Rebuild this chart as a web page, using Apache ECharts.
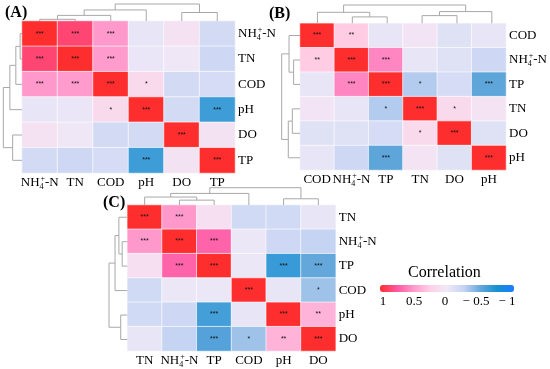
<!DOCTYPE html>
<html><head><meta charset="utf-8">
<script src="https://cdn.jsdelivr.net/npm/echarts@6/dist/echarts.min.js"></script>
<style>html,body{margin:0;padding:0;background:#fff}#c{width:550px;height:369px}</style>
</head><body><div id="c"></div>
<script>
// ---------- data ----------
const labelsA = ['NH4+-N','TN','COD','pH','DO','TP'];
const corrA = [
  [1, 0.85, 0.5, -0.05, 0.08, -0.17],
  [0.85, 1, 0.49, -0.03, 0.02, -0.2],
  [0.5, 0.49, 1, 0.15, -0.17, -0.15],
  [-0.05, -0.03, 0.15, 1, -0.17, -0.62],
  [0.08, 0.02, -0.17, -0.17, 1, 0.07],
  [-0.17, -0.2, -0.15, -0.62, 0.07, 1]
];
const sigA = [
  ['***','***','***','','',''],
  ['***','***','***','','',''],
  ['***','***','***','*','',''],
  ['','','*','***','','***'],
  ['','','','','***',''],
  ['','','','***','','***']
];
const treeA = [[0,1,0.1],[6,2,0.33],[7,3,0.65],[4,5,0.5],[8,9,1]];

const labelsB = ['COD','NH4+-N','TP','TN','DO','pH'];
const corrB = [
  [1, 0.27, -0.05, 0.05, -0.1, -0.05],
  [0.27, 1, 0.57, -0.05, -0.1, -0.2],
  [-0.05, 0.57, 1, -0.3, -0.15, -0.52],
  [0.05, -0.05, -0.3, 1, 0.15, 0.06],
  [-0.1, -0.1, -0.15, 0.15, 1, -0.1],
  [-0.05, -0.2, -0.52, 0.06, -0.1, 1]
];
const sigB = [
  ['***','**','','','',''],
  ['**','***','***','','',''],
  ['','***','***','*','','***'],
  ['','','*','***','*',''],
  ['','','','*','***',''],
  ['','','***','','','***']
];
const treeB = [[1,2,0.35],[0,6,0.6],[3,4,0.42],[8,5,0.64],[7,9,1]];

const labelsC = ['TN','NH4+-N','TP','COD','pH','DO'];
const corrC = [
  [1, 0.5, 0.1, -0.18, -0.18, -0.05],
  [0.5, 1, 0.7, -0.02, -0.2, -0.25],
  [0.1, 0.7, 1, -0.02, -0.64, -0.5],
  [-0.18, -0.02, -0.02, 1, -0.04, -0.35],
  [-0.18, -0.2, -0.6, -0.04, 1, 0.38],
  [-0.05, -0.25, -0.55, -0.35, 0.38, 1]
];
const sigC = [
  ['***','***','','','',''],
  ['***','***','***','','',''],
  ['','***','***','','***','***'],
  ['','','','***','','*'],
  ['','','***','','***','**'],
  ['','','***','*','**','***']
];
const treeC = [[1,2,0.28],[0,6,0.46],[7,3,0.67],[4,5,0.36],[8,9,1]];

const colorTicks = [1, 0.5, 0, -0.5, -1];
const scaleColors = ['#1a7dff','#1590d2','#64a7db','#c6d4f3','#efe9f7','#ffd0e6','#ff99cc','#ff55a0','#ff2e2e'];

// ---------- helpers ----------
const FONT = "'Liberation Serif','Times New Roman',serif";
const rich = {
  n: {fontSize: 13, fontFamily: FONT, color: '#000', lineHeight: 16},
  s: {fontSize: 8, fontFamily: FONT, color: '#000', verticalAlign: 'bottom', lineHeight: 9},
  p: {fontSize: 8, fontFamily: FONT, color: '#000', verticalAlign: 'top', lineHeight: 9, padding: [0, 0, 0, -3]}
};
function fmtLabel(v) {
  if (v === 'NH4+-N') return '{n|NH}{s|4}{p|+}{n|-N}';
  return '{n|' + v + '}';
}
function heatData(m) {
  const out = [];
  m.forEach((row, r) => row.forEach((v, c) => out.push([c, r, v])));
  return out;
}
function dendroSegments(tree, n) {
  const pos = [];
  for (let i = 0; i < n; i++) pos.push([i, 0]);
  const segs = [];
  tree.forEach(([a, b, h]) => {
    const pa = pos[a], pb = pos[b];
    segs.push([pa[0], pa[1], pb[0], pb[1], h]);
    pos.push([(pa[0] + pb[0]) / 2, h]);
  });
  return segs;
}

const panels = [
  {labels: labelsA, corr: corrA, sig: sigA, tree: treeA,
   hm: {left: 22, top: 21, width: 213, height: 152}, colH: 17, rowW: 18.7},
  {labels: labelsB, corr: corrB, sig: sigB, tree: treeB,
   hm: {left: 300, top: 23.3, width: 209.3, height: 146.7}, colH: 18.3, rowW: 18.3},
  {labels: labelsC, corr: corrC, sig: sigC, tree: treeC,
   hm: {left: 127.3, top: 205, width: 208.4, height: 146.7}, colH: 17.3, rowW: 18.3}
];

const grid = [], xAxis = [], yAxis = [], series = [];
const hidden = {show: false};
// heatmaps 0..2
panels.forEach((p, i) => {
  grid.push(Object.assign({containLabel: false}, p.hm));
  xAxis.push({type: 'category', gridIndex: i, data: p.labels, position: 'bottom',
    axisLine: hidden, axisTick: hidden, splitArea: hidden, splitLine: hidden,
    axisLabel: {margin: 2, formatter: fmtLabel, rich: rich, interval: 0}});
  yAxis.push({type: 'category', gridIndex: i, data: p.labels, position: 'right', inverse: true,
    axisLine: hidden, axisTick: hidden, splitArea: hidden, splitLine: hidden,
    axisLabel: {margin: 3, formatter: fmtLabel, rich: rich, interval: 0, align: 'left'}});
  const sig = p.sig;
  series.push({type: 'heatmap', xAxisIndex: i, yAxisIndex: i, data: heatData(p.corr),
    itemStyle: {borderColor: 'rgba(255,255,255,0.8)', borderWidth: 0.8},
    label: {show: true, fontSize: 7, color: '#111', fontFamily: 'Liberation Sans',
      formatter: q => sig[q.value[1]][q.value[0]]},
    emphasis: {disabled: true}, silent: true});
});
// column dendrograms 3..5
panels.forEach((p, i) => {
  const gi = grid.length;
  grid.push({left: p.hm.left, width: p.hm.width, top: p.hm.top - p.colH, height: p.colH});
  xAxis.push({type: 'value', gridIndex: gi, min: -0.5, max: p.labels.length - 0.5, show: false});
  yAxis.push({type: 'value', gridIndex: gi, min: 0, max: 1, show: false});
  series.push({type: 'custom', xAxisIndex: gi, yAxisIndex: gi, silent: true,
    data: dendroSegments(p.tree, p.labels.length),
    renderItem: (params, api) => {
      const xl = api.value(0), hl = api.value(1), xr = api.value(2), hr = api.value(3), h = api.value(4);
      const pts = [[xl, hl], [xl, h], [xr, h], [xr, hr]].map(q => api.coord(q));
      return {type: 'polyline', shape: {points: pts}, style: {stroke: '#a8a8a8', lineWidth: 1, fill: null}};
    }});
});
// row dendrograms 6..8
panels.forEach((p, i) => {
  const gi = grid.length;
  grid.push({left: p.hm.left - p.rowW, width: p.rowW, top: p.hm.top, height: p.hm.height});
  xAxis.push({type: 'value', gridIndex: gi, min: 0, max: 1, inverse: true, show: false});
  yAxis.push({type: 'value', gridIndex: gi, min: -0.5, max: p.labels.length - 0.5, inverse: true, show: false});
  series.push({type: 'custom', xAxisIndex: gi, yAxisIndex: gi, silent: true,
    data: dendroSegments(p.tree, p.labels.length),
    renderItem: (params, api) => {
      const xl = api.value(0), hl = api.value(1), xr = api.value(2), hr = api.value(3), h = api.value(4);
      const pts = [[hl, xl], [h, xl], [h, xr], [hr, xr]].map(q => api.coord(q));
      return {type: 'polyline', shape: {points: pts}, style: {stroke: '#a8a8a8', lineWidth: 1, fill: null}};
    }});
});
// colour bar tick axis 9
grid.push({left: 383, width: 124, top: 285, height: 7});
xAxis.push({type: 'value', gridIndex: 9, min: -1, max: 1, interval: 0.5, inverse: true,
  axisLine: hidden, axisTick: hidden, splitLine: hidden,
  axisLabel: {margin: 3, fontSize: 13, fontFamily: FONT, color: '#000',
    formatter: v => colorTicks.indexOf(v) < 0 ? '' : (v < 0 ? '\u2212 ' + Math.abs(v) : String(v))}});
yAxis.push({type: 'value', gridIndex: 9, show: false});
series.push({type: 'scatter', xAxisIndex: 9, yAxisIndex: 9, data: [], silent: true});

const option = {
  animation: false,
  backgroundColor: '#fff',
  grid, xAxis, yAxis, series,
  visualMap: {type: 'continuous', min: -1, max: 1, seriesIndex: [0, 1, 2], dimension: 2,
    orient: 'horizontal', inverse: true, left: 380, top: 285, itemWidth: 7, itemHeight: 134,
    calculable: false, text: null, padding: 0, inRange: {color: scaleColors}},
  graphic: [
    {type: 'text', left: 5, top: 5, style: {text: '(A)', font: 'bold 16px ' + FONT, fill: '#000'}},
    {type: 'text', left: 269, top: 6, style: {text: '(B)', font: 'bold 16px ' + FONT, fill: '#000'}},
    {type: 'text', left: 103, top: 195, style: {text: '(C)', font: 'bold 16px ' + FONT, fill: '#000'}},
    {type: 'text', left: 408, top: 265, style: {text: 'Correlation', font: '16px ' + FONT, fill: '#000'}}
  ]
};
echarts.init(document.getElementById('c'), null, {renderer: 'canvas'}).setOption(option);
</script></body></html>
